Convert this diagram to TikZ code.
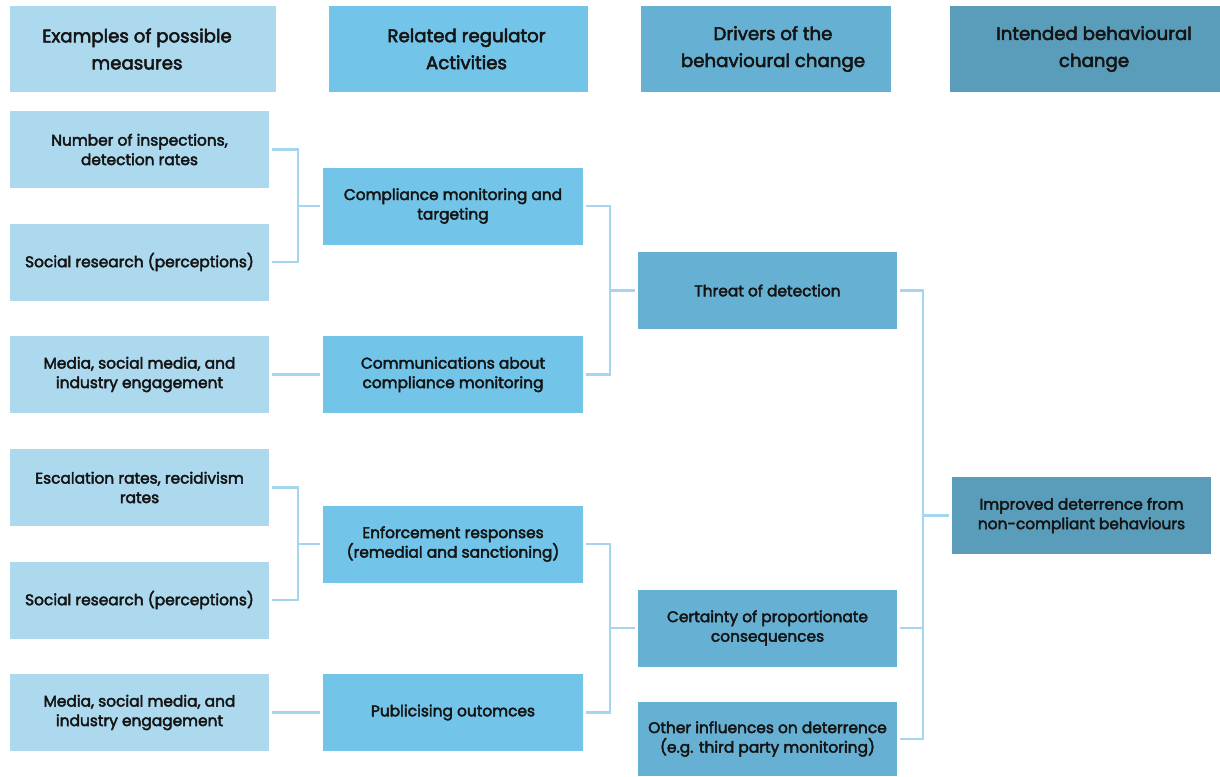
\documentclass[tikz,border=0pt]{standalone}
\usepackage{fontspec}
\setmainfont{Poppins}[FakeBold=2.8]
\definecolor{cA}{HTML}{ADD9EE}
\definecolor{cB}{HTML}{72C4E8}
\definecolor{cC}{HTML}{66B1D3}
\definecolor{cD}{HTML}{5A9DBA}
\definecolor{cL}{HTML}{A6D6EE}
\definecolor{txt}{HTML}{141414}
\newcommand{\hs}[1]{\hspace*{#1pt}}
\begin{document}
\begin{tikzpicture}[x=1pt,y=-1pt,
  box/.style={rectangle, inner sep=0pt, align=center, minimum height=77pt, text=txt,
    font=\fontsize{15.4}{19.5}\selectfont},
  hdr/.style={rectangle, inner sep=0pt, align=center, minimum height=86pt, text=txt,
    font=\fontsize{18.2}{27}\selectfont},
  conn/.style={draw=cL, line width=2.5pt}]
\fill[white] (0,0) rectangle (1220,776);
\useasboundingbox (0,0) rectangle (1220,776);
% headers
\node[hdr, fill=cA, minimum width=266pt] (h1) at (143,49) {\hs{-12}Examples of possible\\\hs{-12}measures};
\node[hdr, fill=cB, minimum width=259pt] (h2) at (458.5,49) {\hs{16}Related regulator\\\hs{16}Activities};
\node[hdr, fill=cC, minimum width=250pt] (h3) at (766,49) {\hs{14}Drivers of the\\\hs{14}behavioural change};
\node[hdr, fill=cD, minimum width=270pt] (h4) at (1085,49) {\hs{18}Intended behavioural\\\hs{18}change};
% column 1
\node[box, fill=cA, minimum width=259pt] (m1) at (139.5,149.5) {Number of inspections,\\detection rates};
\node[box, fill=cA, minimum width=259pt] (m2) at (139.5,262) {Social research (perceptions)};
\node[box, fill=cA, minimum width=259pt] (m3) at (139.5,374.5) {Media, social media, and\\industry engagement};
\node[box, fill=cA, minimum width=259pt] (m4) at (139.5,487.5) {Escalation rates, recidivism\\rates};
\node[box, fill=cA, minimum width=259pt] (m5) at (139.5,600) {Social research (perceptions)};
\node[box, fill=cA, minimum width=259pt] (m6) at (139.5,712.5) {Media, social media, and\\industry engagement};
% column 2
\node[box, fill=cB, minimum width=260pt] (r1) at (453,206) {Compliance monitoring and\\targeting};
\node[box, fill=cB, minimum width=260pt] (r2) at (453,374.5) {Communications about\\compliance monitoring};
\node[box, fill=cB, minimum width=260pt] (r3) at (453,544) {Enforcement responses\\(remedial and sanctioning)};
\node[box, fill=cB, minimum width=260pt] (r4) at (453,712.5) {Publicising outomces};
% column 3
\node[box, fill=cC, minimum width=259pt] (d1) at (767.5,290.5) {Threat of detection};
\node[box, fill=cC, minimum width=259pt] (d2) at (767.5,628) {Certainty of proportionate\\consequences};
\node[box, fill=cC, minimum width=259pt, minimum height=74pt] (d3) at (767.5,739) {Other influences on deterrence\\(e.g. third party monitoring)};
% column 4
\node[box, fill=cD, minimum width=259pt] (i1) at (1081.5,515.5) {Improved deterrence from\\non-compliant behaviours};
% junction columns
\coordinate (j1) at (298,0);
\coordinate (j2) at (610,0);
\coordinate (j3) at (923,0);
% connectors
\draw[conn] ([xshift=3pt]m1.east) -- (m1 -| j1) -- (m2 -| j1) -- ([xshift=3pt]m2.east);
\draw[conn] (r1 -| j1) -- ([xshift=-3pt]r1.west);
\draw[conn] ([xshift=3pt]m3.east) -- ([xshift=-3pt]r2.west);
\draw[conn] ([xshift=3pt]m4.east) -- (m4 -| j1) -- (m5 -| j1) -- ([xshift=3pt]m5.east);
\draw[conn] (r3 -| j1) -- ([xshift=-3pt]r3.west);
\draw[conn] ([xshift=3pt]m6.east) -- ([xshift=-3pt]r4.west);
\draw[conn] ([xshift=3pt]r1.east) -- (r1 -| j2) -- (r2 -| j2) -- ([xshift=3pt]r2.east);
\draw[conn] (d1 -| j2) -- ([xshift=-3pt]d1.west);
\draw[conn] ([xshift=3pt]r3.east) -- (r3 -| j2) -- (r4 -| j2) -- ([xshift=3pt]r4.east);
\draw[conn] (d2 -| j2) -- ([xshift=-3pt]d2.west);
\draw[conn] ([xshift=3pt]d1.east) -- (d1 -| j3) -- (d3 -| j3) -- ([xshift=3pt]d3.east);
\draw[conn] ([xshift=3pt]d2.east) -- (d2 -| j3);
\draw[conn] (i1 -| j3) -- ([xshift=-3pt]i1.west);
\end{tikzpicture}
\end{document}
